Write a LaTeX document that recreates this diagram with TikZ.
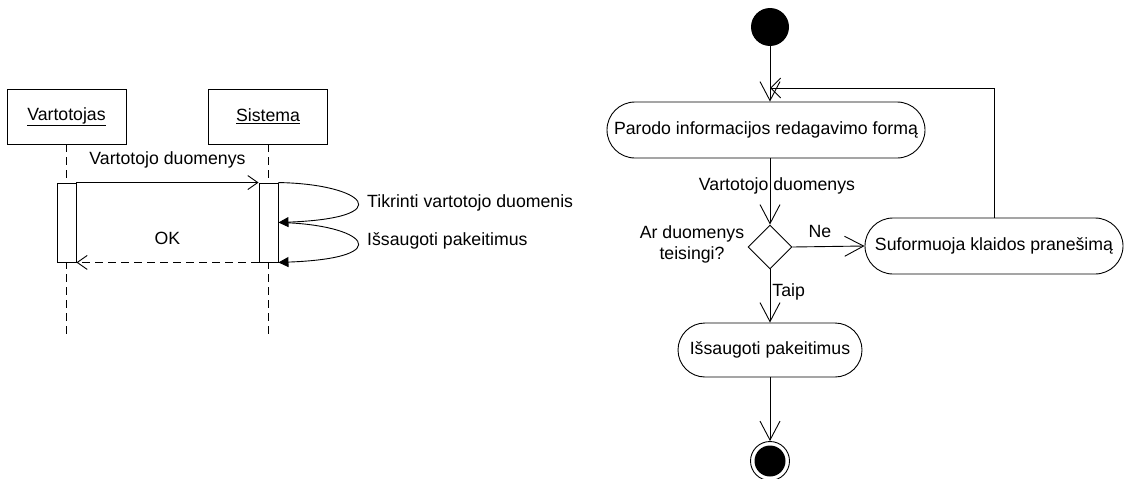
\documentclass[tikz,border=0pt]{standalone}
\usepackage{fontspec}
\setmainfont{Liberation Sans}
\usetikzlibrary{arrows.meta,shapes.geometric,shapes.misc}
\begin{document}
\begin{tikzpicture}[x=1pt,y=-1pt,
  every node/.style={font=\fontsize{17.7}{21}\selectfont},
  base/.style={line width=0.9pt},
  objbox/.style={base,draw,rectangle,minimum width=119,minimum height=55,inner sep=0},
  actbar/.style={base,draw,fill=white,rectangle,minimum width=19,minimum height=79,inner sep=0},
  longdash/.style={dash pattern=on 8pt off 5pt},
  lifeline/.style={base,longdash},
  msg/.style={base,-{Straight Barb[length=10pt,width=14pt]}},
  selfmsg/.style={base,-{Triangle[length=10pt,width=10pt]}},
  flow/.style={base,-{Straight Barb[length=19pt,width=20pt]}},
  action/.style={base,draw,rounded rectangle,minimum height=56,inner sep=0},
  decision/.style={base,draw,diamond,minimum size=44,inner sep=0},
  startnode/.style={circle,fill=black,minimum size=38,inner sep=0},
  endnode/.style={base,draw,circle,minimum size=39,inner sep=0,
    path picture={\fill[black] (path picture bounding box.center) circle (15.5);}},
  lbl/.style={inner sep=0}
]
\useasboundingbox (0,0) rectangle (1127,479);

% ---------- sequence diagram ----------
\node[objbox] (u) at (66.5,116.5) {\underline{Vartotojas}};
\node[objbox] (s) at (268,116.5) {\underline{Sistema}};
\coordinate (uend) at (66.5,338);
\coordinate (send) at (268,338);
\draw[lifeline] (u.south) -- (uend);
\draw[lifeline] (s.south) -- (send);
\node[actbar] (ua) at (66.5,222.5) {};
\node[actbar] (sa) at (268.5,222.5) {};

\draw[msg] (ua.north east) -- (sa.north west)
  node[lbl,pos=0.5,yshift=23pt] {Vartotojo duomenys};
\draw[msg,longdash] (sa.south west) -- (ua.south east)
  node[lbl,pos=0.5,yshift=24pt] {OK};

\draw[selfmsg] (sa.north east) .. controls (365,184) and (400,218) .. (sa.east);
\draw[selfmsg] (sa.east) .. controls (365,224) and (400,258) .. (sa.south east);
\node[lbl,anchor=west] (t1) at (367,203) {Tikrinti vartotojo duomenis};
\node[lbl,anchor=west] (t2) at (367,241) {Išsaugoti pakeitimus};

% ---------- activity diagram ----------
\node[startnode] (st) at (770,27) {};
\node[action,minimum width=318] (a1) at (766,130) {Parodo informacijos redagavimo formą};
\node[decision] (d) at (770,247) {};
\node[action,minimum width=258] (a2) at (994,246) {Suformuoja klaidos pranešimą};
\node[action,minimum width=184,minimum height=54] (a3) at (770,350) {Išsaugoti pakeitimus};
\node[endnode] (en) at (770,461) {};
\coordinate (merge) at (770,88);

\draw[flow] (st.south) -- (st.south |- a1.north);
\draw[base,-{Straight Barb[length=10pt,width=20pt]}] (a2.north) |- (merge);
\draw[flow] (a1.south -| d.north) -- (d.north)
  node[lbl,pos=0.42,xshift=7pt] {Vartotojo duomenys};
\node[lbl,align=center] (q) at (692,244) {Ar duomenys\\teisingi?};
\draw[flow] (d.east) -- (a2.west)
  node[lbl,pos=0.38,yshift=15pt] {Ne};
\draw[flow] (d.south) -- (a3.north)
  node[lbl,pos=0.42,anchor=west,xshift=2pt] {Taip};
\draw[flow] (a3.south) -- (en.north);
\end{tikzpicture}
\end{document}
